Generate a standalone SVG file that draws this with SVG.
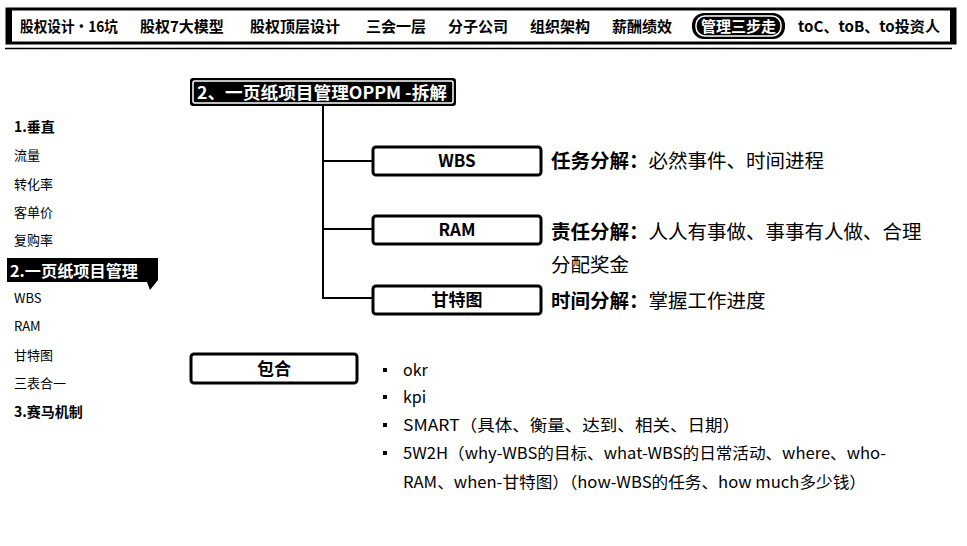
<svg xmlns="http://www.w3.org/2000/svg" width="967" height="546" viewBox="0 0 967 546">
<style>
text{font-family:"Noto Sans CJK SC","Noto Sans",sans-serif;fill:#000}
.nav{font-size:15px;font-weight:bold}
.side{font-size:13px}
.sideb{font-size:14px;font-weight:bold}
.desc{font-size:19.5px}
.b{font-weight:bold}
.bul{font-size:16px}
.dot{fill:#000}
.box{fill:#fff;stroke:#000;stroke-width:3}
.boxt{font-size:17px;font-weight:bold;text-anchor:middle}
.conn{stroke:#000;stroke-width:2;fill:none}
</style>
<rect width="967" height="546" fill="#fff"/>
<g id="navbar">
<rect x="7" y="9" width="948" height="34" fill="#fff" stroke="#000" stroke-width="3"/>
<rect x="7" y="9" width="5" height="34" fill="#000"/>
<rect x="950" y="9" width="5" height="34" fill="#000"/>
<line x1="5" y1="48.5" x2="952" y2="48.5" stroke="#000" stroke-width="1.5"/>
<text class="nav" x="20" y="32" textLength="98" lengthAdjust="spacingAndGlyphs">股权设计·16坑</text>
<text class="nav" x="140" y="32">股权7大模型</text>
<text class="nav" x="250" y="32">股权顶层设计</text>
<text class="nav" x="366" y="32">三会一层</text>
<text class="nav" x="448" y="32">分子公司</text>
<text class="nav" x="530" y="32">组织架构</text>
<text class="nav" x="612" y="32">薪酬绩效</text>
<rect x="692" y="13" width="93" height="26" rx="12" fill="#000"/>
<rect x="696" y="16" width="85" height="20" rx="9" fill="none" stroke="#fff" stroke-width="1.5"/>
<text class="nav" x="738.5" y="32" text-anchor="middle" style="fill:#fff">管理三步走</text>
<text class="nav" x="798" y="32" textLength="142" lengthAdjust="spacingAndGlyphs">toC、toB、to投资人</text>
</g>
<g id="title">
<rect x="190" y="78" width="266" height="28" rx="3" fill="#000"/>
<rect x="193" y="81" width="260" height="22" rx="2" fill="none" stroke="#fff" stroke-width="1.5"/>
<text x="197" y="99" font-size="17" font-weight="bold" textLength="250" lengthAdjust="spacingAndGlyphs" style="fill:#fff">2、一页纸项目管理OPPM -拆解</text>
</g>
<g id="connectors">
<path class="conn" d="M323 106 V298 H372 M323 161 H372 M323 229 H372"/>
</g>
<g id="wbs">
<rect class="box" x="373" y="147" width="168" height="28" rx="3"/>
<text class="boxt" x="457" y="167">WBS</text>
</g>
<g id="ram">
<rect class="box" x="373" y="216" width="168" height="28" rx="3"/>
<text class="boxt" x="457" y="236">RAM</text>
</g>
<g id="gantt">
<rect class="box" x="373" y="286" width="168" height="28" rx="3"/>
<text class="boxt" x="457" y="306">甘特图</text>
</g>
<g id="descs">
<text class="desc" x="551" y="168"><tspan class="b">任务分解：</tspan>必然事件、时间进程</text>
<text class="desc" x="551" y="239"><tspan class="b">责任分解：</tspan>人人有事做、事事有人做、合理</text>
<text class="desc" x="551" y="272">分配奖金</text>
<text class="desc" x="551" y="308"><tspan class="b">时间分解：</tspan>掌握工作进度</text>
</g>
<g id="sidebar">
<text class="sideb" x="14" y="132">1.垂直</text>
<text class="side" x="14" y="160">流量</text>
<text class="side" x="14" y="189">转化率</text>
<text class="side" x="14" y="217">客单价</text>
<text class="side" x="14" y="245">复购率</text>
<path d="M7 258 H158 V280 L150 290 L147 282 H7 Z" fill="#000"/>
<text x="10" y="277" font-size="15.5" font-weight="bold" textLength="128" lengthAdjust="spacingAndGlyphs" style="fill:#fff">2.一页纸项目管理</text>
<text class="side" x="14" y="303">WBS</text>
<text class="side" x="14" y="331">RAM</text>
<text class="side" x="14" y="360">甘特图</text>
<text class="side" x="14" y="388">三表合一</text>
<text class="sideb" x="14" y="417">3.赛马机制</text>
</g>
<g id="include">
<rect class="box" x="191" y="354" width="166" height="29" rx="3"/>
<text class="boxt" x="274" y="375">包合</text>
</g>
<g id="bullets">
<rect class="dot" x="383" y="368" width="4" height="4"/><text class="bul" x="403" y="376">okr</text>
<rect class="dot" x="383" y="395" width="4" height="4"/><text class="bul" x="403" y="403">kpi</text>
<rect class="dot" x="383" y="423" width="4" height="4"/><text class="bul" x="403" y="431" textLength="337" lengthAdjust="spacingAndGlyphs">SMART（具体、衡量、达到、相关、日期）</text>
<rect class="dot" x="383" y="451" width="4" height="4"/><text class="bul" x="403" y="459" textLength="483" lengthAdjust="spacingAndGlyphs">5W2H（why-WBS的目标、what-WBS的日常活动、where、who-</text>
<text class="bul" x="403" y="488" textLength="463" lengthAdjust="spacingAndGlyphs">RAM、when-甘特图）（how-WBS的任务、how much多少钱）</text>
</g>
</svg>
